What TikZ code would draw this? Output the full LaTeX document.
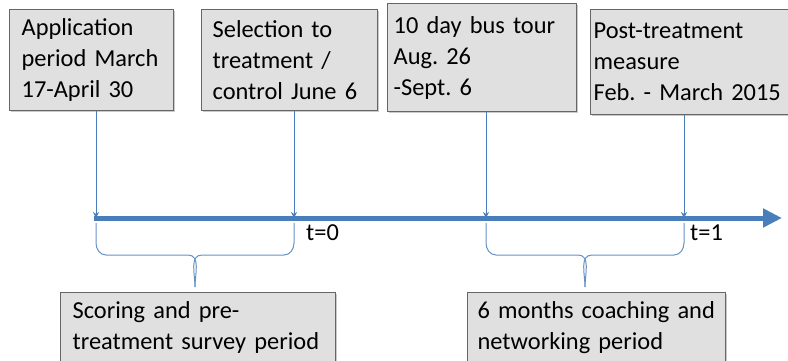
\documentclass[tikz,border=0pt]{standalone}
\usepackage{fontspec}
\setmainfont{Carlito}
\usepackage{tikz}
\usetikzlibrary{arrows.meta, positioning, calc, shadows}
\definecolor{lineblue}{RGB}{74,126,187}
\definecolor{boxgray}{RGB}{224,224,224}
\frenchspacing

\begin{document}
\begin{tikzpicture}[
      x=1pt, y=1pt,
      font=\fontsize{24.4}{31}\selectfont,
      event/.style={draw=black!60, line width=1.3pt, fill=boxgray, anchor=north west,
        align=left, inner ysep=6pt,
        drop shadow={shadow xshift=1.2pt, shadow yshift=-1.2pt, fill=black!35, opacity=0.6}},
      tick/.style={draw=lineblue, line width=0.9pt, -{Stealth[length=6pt,width=6pt]}},
      timeline/.style={draw=lineblue, line width=5pt, -{Triangle[length=19pt,width=18pt]}},
      period/.style={draw=lineblue!85, line width=1pt},
    ]
    \clip (0,0) rectangle (788,360);
    % events above the time line
    \node[event, text width=140pt, inner xsep=12pt, minimum height=101pt] (app) at (9,351) {Application\\period March\\17-April 30};
    \node[event, text width=154pt, inner xsep=11pt, minimum height=101pt] (sel) at (201,351) {Selection to\\treatment /\\control June 6};
    \node[event, text width=177pt, inner xsep=6pt, minimum height=108pt] (tour) at (387,357) {10 day bus tour\\Aug. 26\\-Sept. 6};
    \node[event, text width=192pt, inner xsep=3pt, minimum height=105pt] (post) at (590,351) {Post-treatment\\measure\\Feb. - March 2015};
    % time line
    \coordinate (tstart) at (94,142);
    \coordinate (tend) at (782,142);
    \coordinate (t1) at (96,142);
    \coordinate (t2) at (294,142);
    \coordinate (t3) at (486,142);
    \coordinate (t4) at (684,142);
    \draw[tick] (app.south -| t1) -- (t1);
    \draw[tick] (sel.south -| t2) -- (t2);
    \draw[tick] (tour.south -| t3) -- (t3);
    \draw[tick] (post.south -| t4) -- (t4);
    \draw[timeline] (tstart) -- (tend);
    \node[anchor=west, inner sep=0pt] (tzero) at ($(t2)+(12,-15)$) {t=0};
    \node[anchor=west, inner sep=0pt] (tone) at ($(t4)+(6,-15)$) {t=1};
    % periods below the time line
    \foreach \s/\e in {t1/t2, t3/t4} {
      \draw[period] ($(\s)+(0,-5)$) -- ($(\s)+(0,-25)$) to[out=-90,in=180] ($(\s)+(10,-37)$)
        -- ($(\s)!0.5!(\e)+(-7,-37)$) to[out=0,in=90] ($(\s)!0.5!(\e)+(0,-69)$);
      \draw[period] ($(\e)+(0,-5)$) -- ($(\e)+(0,-25)$) to[out=-90,in=0] ($(\e)+(-10,-37)$)
        -- ($(\s)!0.5!(\e)+(7,-37)$) to[out=180,in=90] ($(\s)!0.5!(\e)+(0,-69)$);
    }
    \node[event, text width=251pt, inner xsep=12pt, inner ysep=9pt, minimum height=90pt] (score) at (60,68) {Scoring and pre-\\treatment survey period\\\strut};
    \node[event, text width=238pt, inner xsep=10pt, inner ysep=9pt, minimum height=90pt] (coach) at (467,68) {6 months coaching and\\networking period\\\strut};
  \end{tikzpicture}
\end{document}
